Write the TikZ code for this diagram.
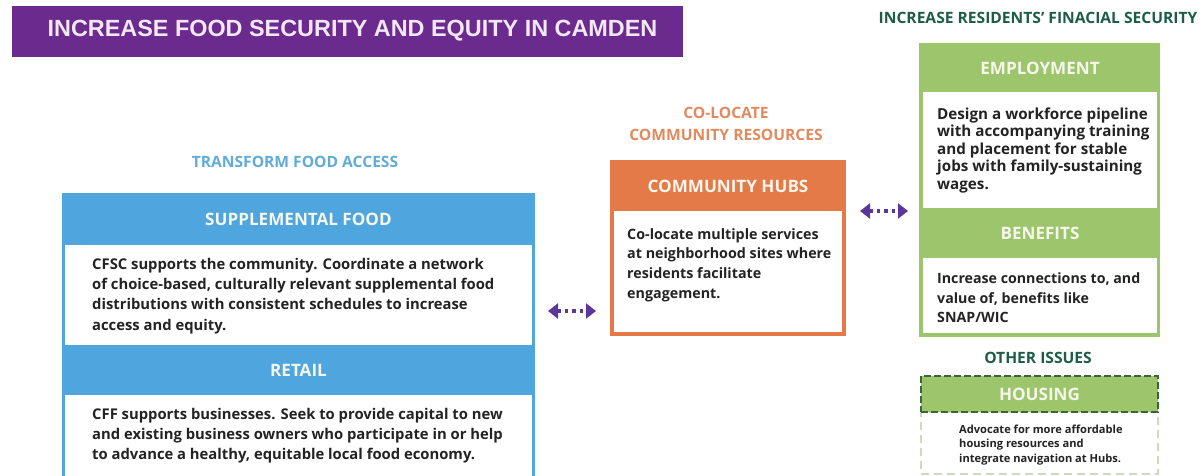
\documentclass[tikz,border=0pt]{standalone}
\usepackage{fontspec}
\setmainfont{Open Sans}
\newfontfamily\bannerfont{Liberation Sans}
\usetikzlibrary{arrows.meta}
\usetikzlibrary{positioning}
\definecolor{royalpurple}{RGB}{107, 42, 142}
\definecolor{lilacwhite}{RGB}{242, 232, 244}
\definecolor{skyblue}{RGB}{79, 166, 223}
\definecolor{paleblue}{RGB}{96, 172, 214}
\definecolor{carrot}{RGB}{227, 122, 71}
\definecolor{peach}{RGB}{226, 138, 94}
\definecolor{leafgreen}{RGB}{157, 197, 108}
\definecolor{pinegreen}{RGB}{30, 92, 72}
\definecolor{mossgreen}{RGB}{60, 100, 55}
\definecolor{sagegray}{RGB}{205, 218, 190}
\definecolor{cream}{RGB}{246, 246, 236}
\definecolor{ink}{RGB}{35, 35, 35}
\definecolor{grape}{RGB}{92, 55, 155}

\begin{document}
\begin{tikzpicture}[x=1pt, y=-1pt,
        frame/.style={inner sep=0pt, outer sep=0pt},
        panel/.style={fill=white, inner sep=0pt, outer sep=0pt},
        bandtitle/.style={text=cream, font=\bfseries\fontsize{17.1}{20}\selectfont},
        coltitle/.style={font=\bfseries\fontsize{15.6}{22}\selectfont, align=center},
        bodytext/.style={text=ink, font=\bfseries\fontsize{14.8}{20.3}\selectfont, align=left, anchor=north west, inner sep=0pt},
        link/.style={grape, line width=3.5pt, dash pattern=on 3.5pt off 4pt, {Triangle[width=15pt,length=10pt]}-{Triangle[width=15pt,length=10pt]}}]
            \useasboundingbox (0,0) rectangle (1202,475);
            % banner
            \node[frame, fill=royalpurple, minimum width=671pt, minimum height=51pt] (banner) at (347.5,31.5) {};
            \node[text=lilacwhite, font=\bannerfont\bfseries\fontsize{23.4}{27}\selectfont] (bannertext) at (352.5,31) {INCREASE FOOD SECURITY AND EQUITY IN CAMDEN};
            % food access
            \node[coltitle, text=paleblue] (foodtitle) at (295,162) {TRANSFORM FOOD ACCESS};
            \node[frame, fill=skyblue, minimum width=473pt, minimum height=287pt] (food) at (298.5,336.5) {};
            \node[bandtitle] (supphead) at (298.5,219) {SUPPLEMENTAL FOOD};
            \node[panel, minimum width=467pt, minimum height=100pt] (supp) at (298.5,295) {};
            \node[bodytext] (supptext) at (92,257.7) {CFSC supports the community. Coordinate a network\\of choice-based, culturally relevant supplemental food\\distributions with consistent schedules to increase\\access and equity.};
            \node[bandtitle] (retailhead) at (298.5,370) {RETAIL};
            \node[panel, minimum width=467pt, minimum height=85pt] (retail) at (298.5,437.5) {};
            \node[bodytext] (retailtext) at (92,407.7) {CFF supports businesses. Seek to provide capital to new\\and existing business owners who participate in or help\\to advance a healthy, equitable local food economy.};
            % community hubs
            \node[coltitle, text=peach] (hubtitle) at (726,124) {CO-LOCATE\\COMMUNITY RESOURCES};
            \node[frame, fill=carrot, minimum width=236pt, minimum height=176pt] (hubs) at (728,248) {};
            \node[bandtitle] (hubhead) at (728,186) {COMMUNITY HUBS};
            \node[panel, minimum width=228pt, minimum height=121pt] (hubpanel) at (728,271.5) {};
            \node[bodytext, font=\bfseries\fontsize{14.3}{19.7}\selectfont] (hubtext) at (627,228) {Co-locate multiple services\\at neighborhood sites where\\residents facilitate\\engagement.};
            % financial security
            \node[coltitle, text=pinegreen] (fintitle) at (1038,18) {INCREASE RESIDENTS' FINACIAL SECURITY};
            \node[frame, fill=leafgreen, minimum width=241pt, minimum height=294pt] (fin) at (1039.5,190) {};
            \node[bandtitle] (emphead) at (1040,68) {EMPLOYMENT};
            \node[panel, minimum width=234pt, minimum height=116pt] (emp) at (1040,150) {};
            \node[bodytext, font=\bfseries\fontsize{15.2}{17.5}\selectfont] (emptext) at (937,107.6) {Design a workforce pipeline\\with accompanying training\\and placement for stable\\jobs with family-sustaining\\wages.};
            \node[bandtitle] (benhead) at (1040,233) {BENEFITS};
            \node[panel, minimum width=234pt, minimum height=75pt] (ben) at (1040,295.5) {};
            \node[bodytext, font=\bfseries\fontsize{14.2}{19.5}\selectfont] (bentext) at (937,273) {Increase connections to, and\\value of, benefits like\\SNAP/WIC};
            % other issues
            \node[coltitle, text=pinegreen] (othertitle) at (1038,358) {OTHER ISSUES};
            \node[panel, draw=sagegray, dash pattern=on 8pt off 5pt, line width=2.5pt, minimum width=237pt, minimum height=62pt] (house) at (1039.5,443) {};
            \node[bandtitle, frame, fill=leafgreen, draw=mossgreen, dash pattern=on 7pt off 3pt, line width=2pt,
                  minimum width=237pt, minimum height=36pt] (househead) at (1039.5,394) {HOUSING};
            \node[bodytext, font=\bfseries\fontsize{11.1}{14.5}\selectfont] (housetext) at (959,424.6) {Advocate for more affordable\\housing resources and\\integrate navigation at Hubs.};
            % links
            \coordinate (lnkAw) at (548,311);
            \coordinate (lnkAe) at (596,311);
            \coordinate (lnkBw) at (860,211);
            \coordinate (lnkBe) at (908,211);
            \draw[link] (lnkAw) -- (lnkAe);
            \draw[link] (lnkBw) -- (lnkBe);
        \end{tikzpicture}
\end{document}
